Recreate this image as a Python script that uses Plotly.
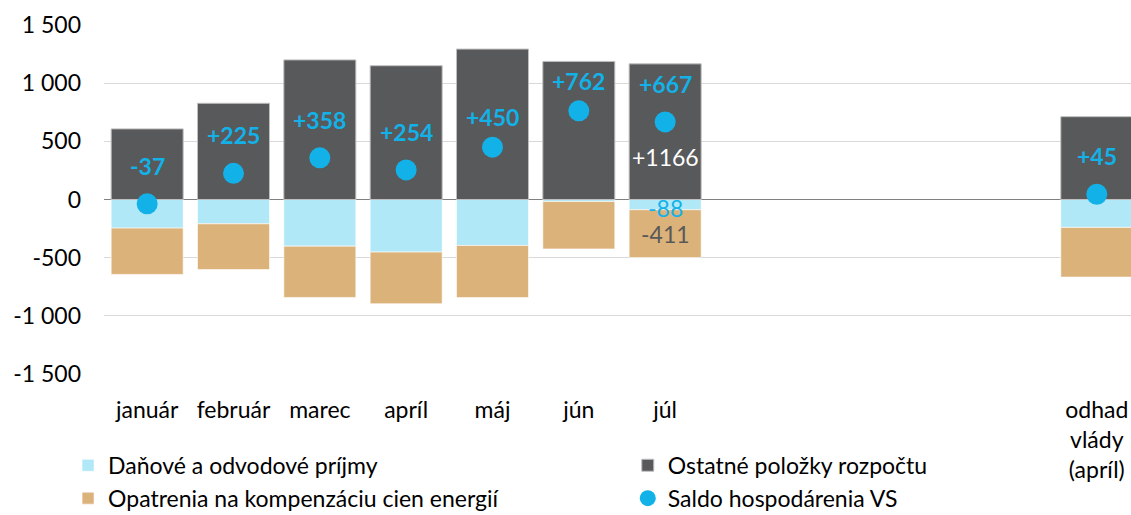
import plotly.graph_objects as go

categories = ["január", "február", "marec", "apríl", "máj", "jún", "júl", "odhad<br>vlády<br>(apríl)"]
spacers = [" ", "  ", "   ", "    "]
dane = [-246, -209, -401, -452, -395, -17, -88, -240]
ostatne = [607, 827, 1200, 1150, 1293, 1187, 1166, 712]
opatrenia = [-398, -393, -441, -444, -448, -408, -411, -427]
saldo = [-37, 225, 358, 254, 450, 762, 667, 45]
saldo_labels = ["-37", "+225", "+358", "+254", "+450", "+762", "+667", "+45"]
ytick_vals = [-1500, -1000, -500, 0, 500, 1000, 1500]
ytick_text = ["-1 500", "-1 000", "-500", "0", "500", "1 000", "1 500"]

FONT = "Lato"
FS = 23
CYAN = "#12b2e8"
LIGHT = "#b0e8f8"
DARK = "#58595b"
TAN = "#dbb27a"
# pixel offsets of the saldo labels above their dots (styling only)
label_shift_px = [38, 38, 38, 38, 30, 30, 38, 38]

cat_order = categories[:7] + spacers + categories[7:]

fig = go.Figure()
fig.add_trace(go.Bar(x=categories, y=dane, name="Daňové a odvodové príjmy", legend="legend",
                     legendgroup="a",
                     marker=dict(color=LIGHT, line=dict(color="rgba(255,255,255,0.6)", width=1))))
fig.add_trace(go.Bar(x=categories, y=ostatne, name="Ostatné položky rozpočtu", legend="legend2",
                     legendgroup="b",
                     marker=dict(color=DARK, line=dict(color="#bfbfbf", width=1))))
fig.add_trace(go.Bar(x=categories, y=opatrenia, name="Opatrenia na kompenzáciu cien energií", legend="legend",
                     legendgroup="c",
                     marker=dict(color=TAN, line=dict(color="rgba(255,255,255,0.6)", width=1))))
fig.add_trace(go.Scatter(x=categories, y=saldo, name="Saldo hospodárenia VS", mode="markers", legend="legend2",
                         legendgroup="d",
                         marker=dict(color=CYAN, size=21)))

for c, v, t, s in zip(categories, saldo, saldo_labels, label_shift_px):
    fig.add_annotation(x=c, y=v, text=f"<b>{t}</b>", showarrow=False, yshift=s,
                       font=dict(family=FONT, size=FS, color=CYAN))

jul = categories.index("júl")
fig.add_annotation(x=categories[jul], y=ostatne[jul] / 2, text=f"+{ostatne[jul]}", showarrow=False,
                   yshift=-25, font=dict(family=FONT, size=FS, color="white"))
fig.add_annotation(x=categories[jul], y=dane[jul] / 2, text=f"{dane[jul]}", showarrow=False,
                   yshift=-3, font=dict(family=FONT, size=FS, color=CYAN))
fig.add_annotation(x=categories[jul], y=dane[jul] + opatrenia[jul] / 2, text=f"{opatrenia[jul]}",
                   showarrow=False, font=dict(family=FONT, size=FS, color="#595959"))

legend_common = dict(orientation="v", yanchor="top", xanchor="left", traceorder="normal",
                     tracegroupgap=4,
                     bgcolor="rgba(0,0,0,0)", font=dict(family=FONT, size=FS, color="black"))

fig.update_layout(
    width=1131, height=515,
    margin=dict(l=104, r=0, t=25, b=141, autoexpand=False),
    barmode="relative", bargap=0.166,
    plot_bgcolor="white", paper_bgcolor="white",
    font=dict(family=FONT, size=FS, color="black"),
    showlegend=True,
    legend=dict(x=-0.035, y=-0.200, **legend_common),
    legend2=dict(x=0.510, y=-0.200, **legend_common),
    xaxis=dict(categoryorder="array", categoryarray=cat_order, range=[-0.5, 11.396],
               showgrid=False, showline=False, ticks="", tickfont=dict(size=FS),
               ticklabelstandoff=20),
    yaxis=dict(range=[-1500, 1500], tickvals=ytick_vals, ticktext=ytick_text,
               showgrid=True, gridcolor="#d9d9d9", gridwidth=1,
               zeroline=True, zerolinecolor="#808080", zerolinewidth=1,
               ticklabelstandoff=22, tickfont=dict(size=FS)),
)

fig.write_html("out.html", config={"displayModeBar": False},
               post_script="document.body.style.margin='0';")
